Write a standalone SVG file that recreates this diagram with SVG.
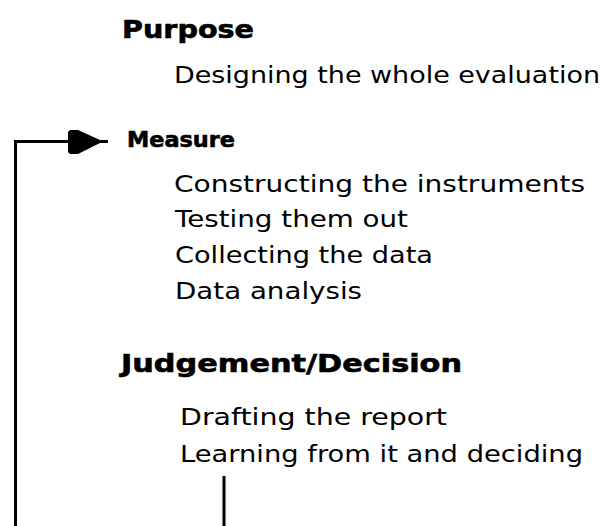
<svg xmlns="http://www.w3.org/2000/svg" width="608" height="526" viewBox="0 0 608 526">
<style>
.h{font-family:"DejaVu Sans","Liberation Sans",sans-serif;font-weight:bold;font-size:24px;fill:#000;stroke:#000;stroke-width:0.6}
.m{font-size:21px}
.t{font-family:"DejaVu Sans","Liberation Sans",sans-serif;font-size:23px;fill:#000}
.c{fill:none;stroke:#000;stroke-width:3}
.ah{fill:#000}
</style>
<rect width="608" height="526" fill="#fff"/>
<g id="connectors">
<path class="c" d="M224,476 V540 H15.5 V141.5 H108"/>
<polygon class="ah" points="68,132 70,130 78,130 100,140 100,143 78,154 70,154 68,152"/>
</g>
<g id="purpose">
<text class="h" x="122" y="38" textLength="132" lengthAdjust="spacingAndGlyphs">Purpose</text>
<text class="t" x="174" y="83" textLength="426" lengthAdjust="spacingAndGlyphs">Designing the whole evaluation</text>
</g>
<g id="measure">
<text class="h m" x="127" y="147" textLength="108" lengthAdjust="spacingAndGlyphs">Measure</text>
<text class="t" x="174" y="192" textLength="411" lengthAdjust="spacingAndGlyphs">Constructing the instruments</text>
<text class="t" x="175" y="227" textLength="233" lengthAdjust="spacingAndGlyphs">Testing them out</text>
<text class="t" x="175" y="263" textLength="258" lengthAdjust="spacingAndGlyphs">Collecting the data</text>
<text class="t" x="175" y="299" textLength="187" lengthAdjust="spacingAndGlyphs">Data analysis</text>
</g>
<g id="judgement">
<text class="h" x="121" y="372" textLength="341" lengthAdjust="spacingAndGlyphs">Judgement/Decision</text>
<text class="t" x="180" y="425" textLength="267" lengthAdjust="spacingAndGlyphs">Drafting the report</text>
<text class="t" x="180" y="462" textLength="403" lengthAdjust="spacingAndGlyphs">Learning from it and deciding</text>
</g>
</svg>
